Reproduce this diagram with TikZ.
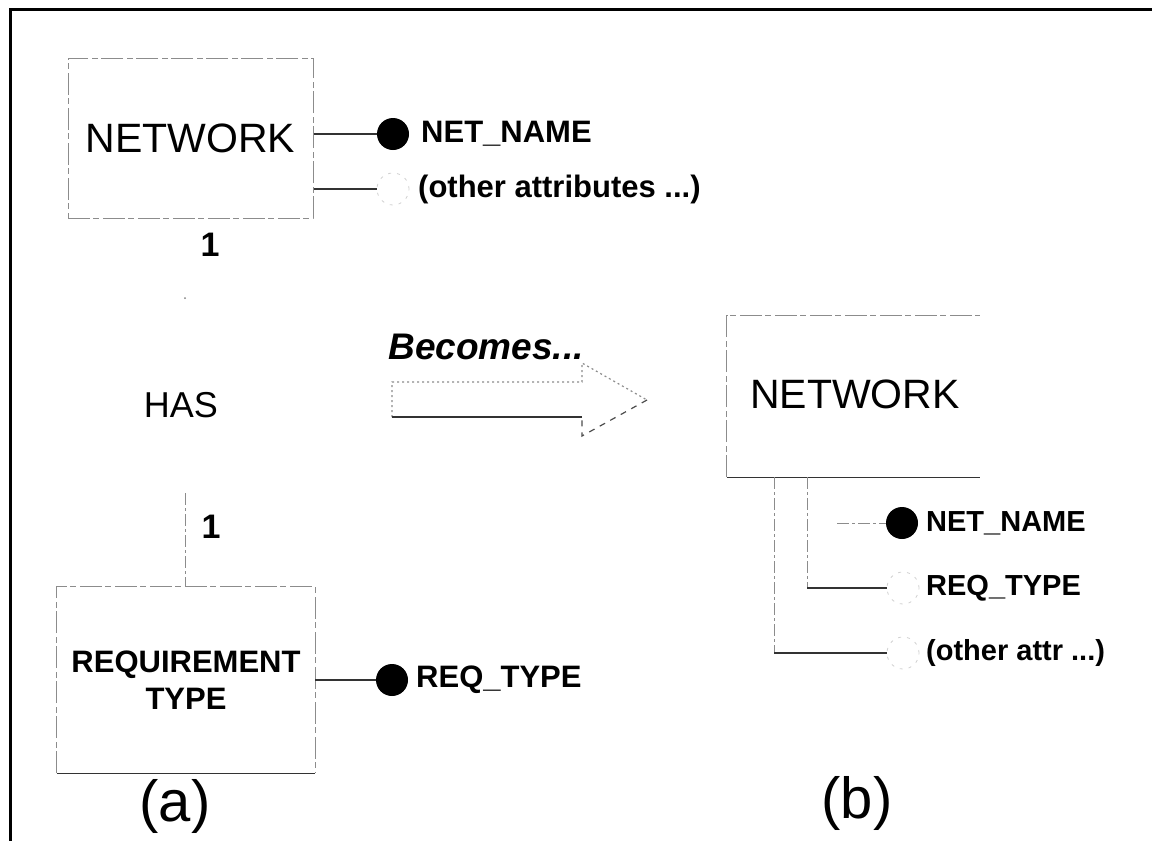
\documentclass[tikz,border=0pt]{standalone}
\usepackage{fontspec}
\setmainfont{Liberation Sans}
\begin{document}
\begin{tikzpicture}[x=1pt,y=-1pt,
  faintbox/.style={draw=black!45, line width=1pt, dash pattern=on 22pt off 3pt on 6pt off 4pt},
  solidedge/.style={draw=black!80, line width=1.4pt},
  ent/.style={rectangle, inner sep=0pt},
  dotfill/.style={circle, fill=black, inner sep=0pt, minimum size=32pt},
  dotopen/.style={circle, draw=black!18, line width=0.8pt, dash pattern=on 3pt off 6pt, inner sep=0pt, minimum size=32pt},
  conn/.style={draw=black!80, line width=1.3pt},
  fconn/.style={draw=black!45, line width=1pt, dash pattern=on 12pt off 3pt on 3pt off 3pt},
  attr/.style={font=\fontsize{31}{37}\selectfont\bfseries, anchor=west, inner sep=0pt},
  attrb/.style={font=\fontsize{29}{35}\selectfont\bfseries, anchor=west, inner sep=0pt},
  bigname/.style={font=\fontsize{41}{48}\selectfont},
  card/.style={font=\fontsize{34}{38}\selectfont\bfseries, inner sep=0pt},
  caption/.style={font=\fontsize{58}{66}\selectfont, inner sep=0pt}
]
\useasboundingbox (0,0) rectangle (1152,841);
% frame
\draw[line width=3pt] (10,841) -- (10,9) -- (1152,9);

% ---------- (a) ----------
\node[ent, faintbox, bigname, minimum width=245pt, minimum height=160pt] (netA) at (190.5,138) {NETWORK};
\node[dotfill] (dA1) at (393,134) {};
\node[attr] (lA1) at (421,134) {NET\_NAME};
\draw[conn] (dA1 -| netA.east) -- (dA1.west);
\node[dotopen] (oA1) at (393,189) {};
\node[attr] (lA2) at (418,189) {(other attributes ...)};
\draw[conn] (oA1 -| netA.east) -- (oA1.west);

\node[card] (c1) at (210,245) {1};
\node[font=\fontsize{36}{40}\selectfont, inner sep=0pt] (has) at (181,405) {HAS};
\coordinate (hasT) at (185,298);
\coordinate (hasB) at (185,493);
\fill[black!50] (hasT) circle (1pt);

\node[ent, minimum width=258pt, minimum height=186pt] (reqA) at (186,680) {};
\draw[faintbox] (reqA.south west) -- (reqA.north west) -- (reqA.north east) -- (reqA.south east);
\draw[solidedge] (reqA.south west) -- (reqA.south east);
\node[font=\fontsize{31}{37}\selectfont\bfseries, align=center, inner sep=0pt] (reqT) at (reqA.center) {REQUIREMENT\\TYPE};
\draw[fconn] (hasB) -- (hasB |- reqA.north);
\node[card] (c2) at (211,527) {1};
\node[dotfill] (dA2) at (392,680) {};
\node[attr] (lA3) at (416,680) {REQ\_TYPE};
\draw[conn] (reqA.east |- dA2) -- (dA2.west);

\node[caption] (capA) at (175,806) {(a)};

% ---------- arrow ----------
\node[font=\fontsize{37}{44}\selectfont\bfseries\itshape, inner sep=0pt] (becomes) at (486,347) {Becomes...};
\coordinate (ar1) at (392,382);
\coordinate (ar2) at (582,382);
\coordinate (ar3) at (582,363);
\coordinate (ar4) at (647,400);
\coordinate (ar5) at (582,436);
\coordinate (ar6) at (582,417);
\coordinate (ar7) at (392,417);
\draw[draw=black!45, line width=1.2pt, dash pattern=on 2pt off 3pt] (ar7) -- (ar1) -- (ar2) -- (ar3) -- (ar4);
\draw[draw=black!70, line width=1.2pt, dash pattern=on 6pt off 6pt] (ar4) -- (ar5) -- (ar6);
\draw[conn] (ar6) -- (ar7);

% ---------- (b) ----------
\node[ent, minimum width=253pt, minimum height=161pt] (netB) at (853.5,396.5) {};
\node[bigname, inner sep=0pt] (netBt) at (855,394) {NETWORK};
\draw[faintbox] (netB.south west) -- (netB.north west) -- (netB.north east);
\draw[conn] (netB.south west) -- (netB.south east);

\node[dotfill] (dB1) at (902,523) {};
\node[dotopen] (oB1) at (903,588) {};
\node[dotopen] (oB2) at (903,653) {};
\node[attrb] (lB1) at (926,523) {NET\_NAME};
\node[attrb] (lB2) at (926,588) {REQ\_TYPE};
\node[attrb] (lB3) at (926,653) {(other attr ...)};

\coordinate (t1) at (837,477);
\coordinate (t2) at (807,477);
\coordinate (t3) at (774,477);
\draw[fconn] (t1 |- dB1) -- (dB1.west);
\draw[fconn] (t2) |- (oB1.west);
\draw[conn] (t2 |- oB1) -- (oB1.west);
\draw[fconn] (t3) |- (oB2.west);
\draw[conn] (t3 |- oB2) -- (oB2.west);

\node[caption] (capB) at (857,803) {(b)};
\end{tikzpicture}
\end{document}
